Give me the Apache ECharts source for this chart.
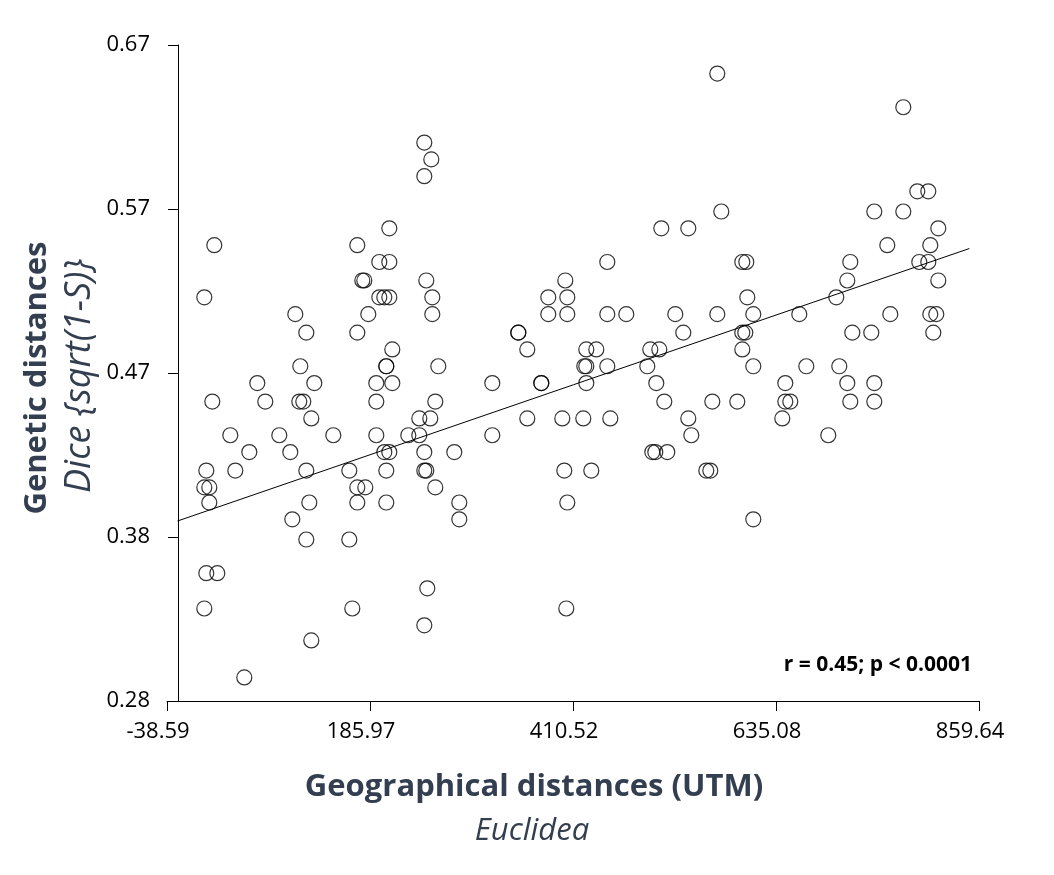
<!DOCTYPE html>
<html>
<head>
<meta charset="utf-8">
<title>Genetic vs geographical distances</title>
<script src="https://cdn.jsdelivr.net/npm/echarts@6/dist/echarts.min.js"></script>
<style>
  html, body { margin: 0; padding: 0; background: #fff; }
  #main { width: 1054px; height: 875px; }
</style>
</head>
<body>
<div id="main"></div>
<script>
// geographical distance (UTM, euclidean) of each pair, read row by row
var geoDist = [
  570.15, 775.90, 246.04, 253.78, 246.04, 791.38, 803.55, 574.57, 743.82, 775.90,
  207.32, 508.20, 538.07, 814.61,
  13.74, 171.92, 758.20, 805.76,
  196.26, 207.32, 448.47, 597.80, 602.23, 717.27, 793.59, 803.55,
  177.45, 179.66, 248.25, 402.01, 713.95, 814.61,
  2.68, 196.26, 201.79, 207.32, 254.89, 383.20, 404.22, 603.33, 701.78,
  103.34, 184.09, 254.89, 383.20, 404.22, 448.47, 469.48, 523.69, 570.15, 609.97, 660.85, 761.52, 805.76, 812.40,
  115.51, 171.92, 350.02, 350.02, 532.54, 597.80, 601.12, 719.48, 740.50, 809.08,
  210.64, 359.97, 425.24, 436.30, 496.03, 505.99, 597.80,
  108.87, 204.00, 204.00, 261.52, 423.02, 425.24, 448.47, 492.71, 609.97, 668.60, 705.10,
  61.30, 124.36, 192.94, 210.64, 321.26, 375.46, 375.46, 425.24, 502.67, 645.37, 713.95, 743.82,
  11.53, 70.15, 107.76, 112.19, 192.94, 258.20, 511.52, 564.62, 592.27, 645.37, 650.90, 717.27, 743.82,
  121.04, 240.50, 252.67, 359.97, 398.69, 421.92, 451.79, 538.07, 642.05,
  31.44, 85.64, 145.37, 192.94, 228.34, 240.50, 321.26, 541.39, 692.93,
  52.45, 97.81, 201.79, 207.32, 246.04, 279.22, 498.24, 501.56, 514.84,
  4.89, 36.97, 115.51, 163.07, 204.00, 246.04, 248.25, 400.90, 430.77, 557.98, 562.40,
  2.68, 8.21, 171.92, 180.77, 258.20,
  8.21, 118.82, 171.92, 204.00, 284.75, 404.22,
  100.02, 284.75, 609.97,
  115.51, 163.07,
  4.89, 17.06,
  249.35,
  2.68, 166.39, 403.11,
  246.04,
  121.04,
  46.92
];

// genetic distance (Dice, sqrt(1-S)) of the same pairs
var genDist = [
  0.653, 0.633, 0.612, 0.602, 0.592, 0.583, 0.583, 0.571, 0.571, 0.571,
  0.561, 0.561, 0.561, 0.561,
  0.551, 0.551, 0.551, 0.551,
  0.541, 0.541, 0.541, 0.541, 0.541, 0.541, 0.541, 0.541,
  0.530, 0.530, 0.530, 0.530, 0.530, 0.530,
  0.520, 0.520, 0.520, 0.520, 0.520, 0.520, 0.520, 0.520, 0.520,
  0.510, 0.510, 0.510, 0.510, 0.510, 0.510, 0.510, 0.510, 0.510, 0.510, 0.510, 0.510, 0.510, 0.510,
  0.499, 0.499, 0.499, 0.499, 0.499, 0.499, 0.499, 0.499, 0.499, 0.499,
  0.489, 0.489, 0.489, 0.489, 0.489, 0.489, 0.489,
  0.479, 0.479, 0.479, 0.479, 0.479, 0.479, 0.479, 0.479, 0.479, 0.479, 0.479,
  0.469, 0.469, 0.469, 0.469, 0.469, 0.469, 0.469, 0.469, 0.469, 0.469, 0.469, 0.469,
  0.458, 0.458, 0.458, 0.458, 0.458, 0.458, 0.458, 0.458, 0.458, 0.458, 0.458, 0.458, 0.458,
  0.448, 0.448, 0.448, 0.448, 0.448, 0.448, 0.448, 0.448, 0.448,
  0.438, 0.438, 0.438, 0.438, 0.438, 0.438, 0.438, 0.438, 0.438,
  0.428, 0.428, 0.428, 0.428, 0.428, 0.428, 0.428, 0.428, 0.428,
  0.417, 0.417, 0.417, 0.417, 0.417, 0.417, 0.417, 0.417, 0.417, 0.417, 0.417,
  0.407, 0.407, 0.407, 0.407, 0.407,
  0.398, 0.398, 0.398, 0.398, 0.398, 0.398,
  0.388, 0.388, 0.388,
  0.376, 0.376,
  0.356, 0.356,
  0.347,
  0.335, 0.335, 0.335,
  0.325,
  0.316,
  0.294
];

var xTickLabels = ['-38.59', '185.97', '410.52', '635.08', '859.64'];
var yTickLabels = ['0.28', '0.38', '0.47', '0.57', '0.67'];

// trend line as drawn in the figure (two ends)
var fitX = [-27, 849];
var fitY = [0.387, 0.549];
var statText = 'r = 0.45; p < 0.0001';

var points = [];
for (var i = 0; i < geoDist.length; i++) {
  points.push([geoDist[i], genDist[i]]);
}
var fitLine = fitX.map(function (x, k) { return [x, fitY[k]]; });

var titleColor = '#333f50';
var font = '"Open Sans", sans-serif';

var myChart = echarts.init(document.getElementById('main'));
myChart.setOption({
  animation: false,
  grid: { left: 167, right: 75, top: 45, bottom: 174 },
  xAxis: {
    type: 'value',
    min: -38.59,
    max: 859.64,
    interval: 224.5575,
    splitLine: { show: false },
    axisLine: { show: true, onZero: false, lineStyle: { color: '#000', width: 1 } },
    axisTick: { show: true, length: 10, lineStyle: { color: '#000' } },
    axisLabel: {
      color: '#000', fontFamily: font, fontSize: 22, margin: 20,
      padding: [0, 18, 0, 0],
      formatter: function (v, idx) { return xTickLabels[idx]; }
    }
  },
  yAxis: {
    type: 'value',
    min: 0.28,
    max: 0.67,
    interval: 0.0975,
    offset: -11,
    splitLine: { show: false },
    axisLine: { show: true, onZero: false, lineStyle: { color: '#000', width: 1 } },
    axisTick: { show: true, length: 10, lineStyle: { color: '#000' } },
    axisLabel: {
      color: '#000', fontFamily: font, fontSize: 22, margin: 28,
      formatter: function (v, idx) { return yTickLabels[idx]; }
    }
  },
  graphic: [
    {
      type: 'text', x: 534, y: 787,
      style: { text: 'Geographical distances (UTM)', fill: titleColor, font: 'bold 31px "Open Sans"', align: 'center', verticalAlign: 'middle' }
    },
    {
      type: 'text', x: 532, y: 831,
      style: { text: 'Euclidea', fill: titleColor, font: 'italic 31px "Open Sans"', align: 'center', verticalAlign: 'middle' }
    },
    {
      type: 'text', x: 37, y: 378, rotation: Math.PI / 2,
      style: { text: 'Genetic distances', fill: titleColor, font: 'bold 31px "Open Sans"', align: 'center', verticalAlign: 'middle' }
    },
    {
      type: 'text', x: 80, y: 376, rotation: Math.PI / 2,
      style: { text: 'Dice {sqrt(1-S)}', fill: titleColor, font: 'italic 36px "Open Sans"', align: 'center', verticalAlign: 'middle' }
    },
    {
      type: 'text', x: 972, y: 665,
      style: { text: statText, fill: '#000', font: 'bold 21px "Open Sans"', align: 'right', verticalAlign: 'middle' }
    }
  ],
  series: [
    {
      name: 'pairs',
      type: 'scatter',
      data: points,
      symbol: 'circle',
      symbolSize: 15,
      itemStyle: { color: 'rgba(0,0,0,0)', borderColor: '#000', borderWidth: 1.2 },
      z: 3
    },
    {
      name: 'fit',
      type: 'line',
      data: fitLine,
      symbol: 'none',
      lineStyle: { color: '#000', width: 1 },
      z: 2
    }
  ]
});
</script>
</body>
</html>
